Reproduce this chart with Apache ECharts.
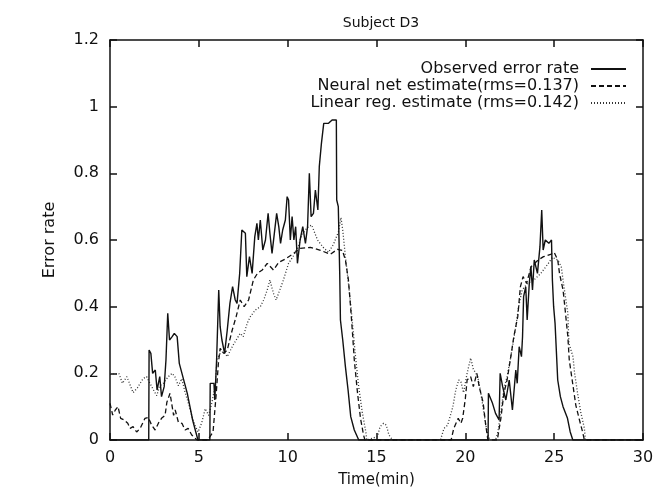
<!DOCTYPE html>
<html><head><meta charset="utf-8">
<script src="https://cdn.jsdelivr.net/npm/echarts@6/dist/echarts.min.js"></script>
<style>html,body{margin:0;padding:0;background:#fff}#c{width:659px;height:493px}</style>
</head><body><div id="c"></div>
<script>
// ---- data ----
const titleText = 'Subject D3';
const seriesNames = ['Observed error rate', 'Neural net estimate(rms=0.137)', 'Linear reg. estimate (rms=0.142)'];
const xTicks = [0, 5, 10, 15, 20, 25, 30];
const yTicks = [0, 0.2, 0.4, 0.6, 0.8, 1, 1.2];

const observedTime = [0,2.18,2.2,2.3,2.4,2.55,2.65,2.8,2.9,3.05,3.15,3.25,3.35,3.5,3.62,3.78,3.9,4.05,4.2,4.35,4.5,4.65,4.8,4.95,5.62,5.64,5.85,5.9,6.0,6.12,6.2,6.3,6.45,6.6,6.75,6.9,7.05,7.15,7.3,7.42,7.62,7.7,7.85,8.0,8.15,8.27,8.35,8.46,8.6,8.75,8.9,9.0,9.12,9.25,9.38,9.5,9.6,9.72,9.87,9.97,10.05,10.15,10.25,10.35,10.45,10.55,10.7,10.85,11.0,11.12,11.22,11.32,11.45,11.56,11.7,11.78,11.9,12.03,12.3,12.5,12.74,12.76,12.85,12.93,12.97,13.1,13.25,13.4,13.55,13.75,14.0,21.28,21.3,21.53,21.7,21.9,21.96,22.1,22.28,22.47,22.65,22.84,22.92,23.03,23.16,23.22,23.28,23.4,23.48,23.6,23.69,23.78,23.88,24.06,24.2,24.3,24.38,24.5,24.7,24.85,24.9,24.97,25.05,25.2,25.35,25.5,25.75,25.9,26.05,30];
const observedRate = [0,0,0.27,0.26,0.2,0.21,0.15,0.19,0.13,0.16,0.24,0.38,0.3,0.31,0.32,0.31,0.23,0.2,0.17,0.14,0.1,0.06,0.03,0,0,0.17,0.17,0.12,0.24,0.45,0.34,0.3,0.26,0.33,0.41,0.46,0.42,0.41,0.5,0.63,0.62,0.49,0.55,0.5,0.61,0.65,0.6,0.66,0.57,0.6,0.68,0.62,0.56,0.62,0.68,0.64,0.59,0.63,0.66,0.73,0.72,0.6,0.67,0.6,0.64,0.53,0.6,0.64,0.59,0.64,0.8,0.67,0.68,0.75,0.69,0.82,0.89,0.95,0.95,0.96,0.96,0.72,0.7,0.5,0.36,0.3,0.22,0.15,0.07,0.03,0,0,0.14,0.11,0.08,0.06,0.2,0.16,0.12,0.18,0.09,0.21,0.17,0.28,0.25,0.31,0.43,0.46,0.36,0.47,0.52,0.45,0.54,0.5,0.58,0.69,0.57,0.6,0.59,0.6,0.48,0.4,0.35,0.18,0.13,0.1,0.065,0.025,0,0];

const neuralTime = [0,0.15,0.3,0.45,0.6,0.8,1.0,1.13,1.3,1.5,1.7,1.97,2.15,2.35,2.54,2.75,2.9,3.1,3.2,3.38,3.5,3.58,3.67,3.85,4.05,4.23,4.4,4.6,4.9,5.5,5.8,5.98,6.1,6.2,6.4,6.6,6.88,7.1,7.33,7.55,7.8,8.07,8.3,8.57,8.85,9.2,9.5,9.87,10.26,10.7,11.28,11.85,12.4,12.8,13.08,13.25,13.42,13.54,13.65,13.75,13.93,14.1,14.27,14.35,19.2,19.35,19.6,19.75,19.85,20.0,20.1,20.3,20.45,20.65,20.78,21.0,21.15,21.27,21.8,22.0,22.17,22.35,22.56,22.73,22.95,23.1,23.25,23.45,23.7,24.1,24.4,24.8,25.0,25.2,25.3,25.5,25.6,25.77,25.85,26.06,26.22,26.4,26.6,26.7,30];
const neuralRate = [0.11,0.075,0.09,0.1,0.065,0.06,0.05,0.035,0.04,0.024,0.035,0.065,0.068,0.044,0.03,0.053,0.065,0.074,0.113,0.14,0.1,0.074,0.09,0.053,0.05,0.03,0.035,0.015,0,0,0.024,0.14,0.23,0.275,0.26,0.27,0.33,0.37,0.42,0.4,0.42,0.48,0.5,0.51,0.53,0.51,0.533,0.543,0.557,0.575,0.578,0.569,0.557,0.572,0.569,0.54,0.48,0.4,0.32,0.24,0.142,0.065,0.015,0,0,0.035,0.065,0.05,0.065,0.124,0.18,0.19,0.16,0.2,0.16,0.113,0.044,0,0,0.065,0.14,0.18,0.25,0.31,0.37,0.46,0.49,0.47,0.52,0.54,0.55,0.557,0.563,0.54,0.5,0.45,0.4,0.31,0.24,0.163,0.104,0.065,0.024,0,0];

const linearTime = [0,0.25,0.5,0.7,0.95,1.3,1.55,1.86,2.06,2.25,2.45,2.63,2.8,3.0,3.28,3.5,3.65,3.85,4.04,4.23,4.4,4.6,4.78,4.96,5.17,5.36,5.55,5.74,5.92,6.03,6.2,6.4,6.6,6.88,7.1,7.33,7.5,7.72,7.9,8.18,8.46,8.65,8.85,9.0,9.2,9.35,9.76,10.05,10.3,10.6,10.8,11.1,11.35,11.68,12.0,12.3,12.58,12.86,13.0,13.1,13.25,13.4,13.54,13.7,13.8,13.99,14.2,14.4,14.45,15.05,15.2,15.4,15.55,15.7,15.9,18.6,18.8,19.0,19.3,19.46,19.63,19.75,19.9,20.1,20.3,20.45,20.7,20.87,21.04,21.15,21.3,21.4,21.7,21.83,22.0,22.17,22.35,22.56,22.84,23.0,23.2,23.5,23.86,24.25,24.65,24.9,25.2,25.4,25.55,25.77,25.83,26.06,26.15,26.34,26.5,26.7,26.76,30];
const linearRate = [0.2,0.198,0.2,0.17,0.19,0.142,0.157,0.184,0.19,0.17,0.15,0.133,0.163,0.17,0.19,0.2,0.19,0.163,0.184,0.142,0.113,0.074,0.044,0.024,0.053,0.094,0.074,0.113,0.163,0.243,0.26,0.265,0.25,0.28,0.3,0.32,0.31,0.35,0.37,0.39,0.4,0.42,0.45,0.48,0.44,0.42,0.48,0.53,0.55,0.58,0.617,0.637,0.645,0.6,0.578,0.563,0.587,0.625,0.667,0.63,0.55,0.48,0.41,0.32,0.26,0.163,0.083,0.024,0,0.01,0.04,0.05,0.045,0.015,0,0,0.035,0.044,0.1,0.15,0.18,0.175,0.142,0.2,0.246,0.213,0.19,0.142,0.083,0.044,0.01,0,0,0.024,0.083,0.154,0.19,0.25,0.34,0.4,0.45,0.47,0.48,0.5,0.528,0.548,0.54,0.52,0.46,0.38,0.29,0.25,0.2,0.133,0.083,0.035,0,0];

// ---- chart ----
const FONT = 'DejaVu Sans';
const INK = '#111';
const zip = (a, b) => a.map((t, i) => [t, b[i]]);

const baseAxis = {
  type: 'value',
  axisLine: { show: true, onZero: false, lineStyle: { color: INK, width: 1.5 } },
  axisTick: { show: true, inside: true, length: 7, lineStyle: { color: INK, width: 1.5 } },
  splitLine: { show: false },
  axisLabel: { color: INK, fontFamily: FONT, fontSize: 16 }
};

const option = {
  backgroundColor: '#fff',
  animation: false,
  title: {
    text: titleText, left: 376, top: 11, textAlign: 'center',
    textStyle: { fontFamily: FONT, fontSize: 14, fontWeight: 'normal', color: INK }
  },
  grid: { left: 110, right: 16, top: 40, bottom: 48 },
  legend: {
    orient: 'vertical', right: 32, top: 61, align: 'right', padding: 0,
    itemWidth: 35, itemHeight: 10, itemGap: 1,
    itemStyle: { color: 'transparent', borderWidth: 0, opacity: 0 },
    textStyle: { fontFamily: FONT, fontSize: 16, color: INK, lineHeight: 15, padding: [0, 7, 0, 0] },
    data: seriesNames
  },
  xAxis: [
    Object.assign({}, baseAxis, {
      min: xTicks[0], max: xTicks[xTicks.length - 1], interval: xTicks[1] - xTicks[0],
      name: 'Time(min)', nameLocation: 'middle', nameGap: 33,
      nameTextStyle: { fontFamily: FONT, fontSize: 15, color: INK },
      axisLabel: Object.assign({}, baseAxis.axisLabel, { margin: 10 })
    }),
    Object.assign({}, baseAxis, {
      position: 'top', min: xTicks[0], max: xTicks[xTicks.length - 1], interval: xTicks[1] - xTicks[0],
      axisLabel: { show: false }
    })
  ],
  yAxis: [
    Object.assign({}, baseAxis, {
      min: yTicks[0], max: yTicks[yTicks.length - 1], interval: 0.2,
      name: 'Error rate', nameLocation: 'middle', nameGap: 52,
      nameTextStyle: { fontFamily: FONT, fontSize: 16, color: INK },
      axisLabel: Object.assign({}, baseAxis.axisLabel, { margin: 11 })
    }),
    Object.assign({}, baseAxis, {
      position: 'right', min: yTicks[0], max: yTicks[yTicks.length - 1], interval: 0.2,
      axisLabel: { show: false }
    })
  ],
  series: [
    {
      name: seriesNames[0], type: 'line', symbol: 'none', data: zip(observedTime, observedRate),
      lineStyle: { color: INK, width: 1.4, type: 'solid' }, itemStyle: { color: INK }, z: 3
    },
    {
      name: seriesNames[1], type: 'line', symbol: 'none', data: zip(neuralTime, neuralRate),
      lineStyle: { color: INK, width: 1.3, type: [5, 3] }, itemStyle: { color: INK }, z: 2
    },
    {
      name: seriesNames[2], type: 'line', symbol: 'none', data: zip(linearTime, linearRate),
      lineStyle: { color: '#333', width: 1.3, type: [1, 2] }, itemStyle: { color: '#333' }, z: 1
    }
  ]
};

const chart = echarts.init(document.getElementById('c'), null, { renderer: 'canvas' });
chart.setOption(option);
</script>
</body></html>
